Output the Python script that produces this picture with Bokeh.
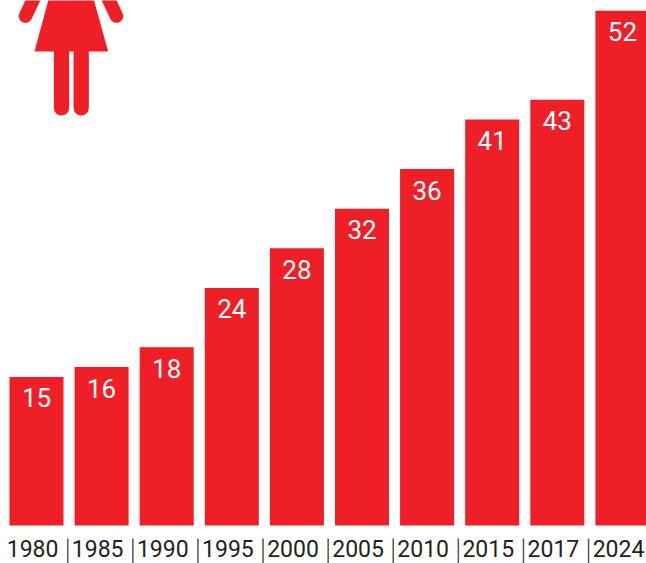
from bokeh.plotting import figure
from bokeh.core.properties import value
from bokeh.models import Range1d, ColumnDataSource, LabelSet
from bokeh.embed import file_html
from bokeh.resources import INLINE

years = ["1980", "1985", "1990", "1995", "2000", "2005", "2010", "2015", "2017", "2024"]
values = [15, 16, 18, 24, 28, 32, 36, 41, 43, 52]

RED = "#EE1F27"
slots = list(range(len(years)))
src = ColumnDataSource(dict(x=slots, value=values, label=[str(v) for v in values]))
year_src = ColumnDataSource(dict(x=[s - 0.06 for s in slots], y=[0] * len(slots), year=years))

p = figure(width=646, height=563, output_backend="svg", toolbar_location=None, min_border=0,
           x_range=Range1d(-0.553, 9.37), y_range=Range1d(-3.84, 53.03),
           x_axis_type=None, y_axis_type=None, outline_line_color=None)
p.xgrid.visible = False
p.ygrid.visible = False

p.vbar(x="x", top="value", bottom=0, width=0.83, source=src, fill_color=RED, line_color=None)
p.add_layout(LabelSet(x="x", y="value", text="label", source=src, y_offset=-21,
                      text_align="center", text_baseline="middle", text_color="white",
                      text_font=value("Roboto"), text_font_size="26px"))
p.add_layout(LabelSet(x="x", y="y", text="year", source=year_src, y_offset=-23,
                      text_align="center", text_baseline="middle", text_color="#231F20",
                      text_font=value("Roboto"), text_font_size="23px"))

# pictogram and separators, drawn in page pixels on their own y range
p.extra_x_ranges["px"] = Range1d(0, 646)
p.extra_y_ranges["px"] = Range1d(563, 0)
icon = dict(x_range_name="px", y_range_name="px")
gaps = [s + 0.48 for s in slots[:-1]]
p.segment(x0=gaps, x1=gaps, y0=[538] * len(gaps), y1=[563] * len(gaps),
          line_color="#555555", line_width=1.5, y_range_name="px")
p.patch([48.3, 93, 107.7, 34], [-2, -2, 51, 51], fill_color=RED, line_color=None, **icon)
for xs, ys, w in [([61, 61], [45, 107.4], 15.3), ([80.7, 80.7], [45, 107.4], 15.3),
                  ([25, 37], [15.6, -10], 13.5), ([116, 104], [15.6, -10], 13.5)]:
    p.line(xs, ys, line_color=RED, line_width=w, line_cap="round", **icon)

open("out.html", "w").write(file_html(p, INLINE))
